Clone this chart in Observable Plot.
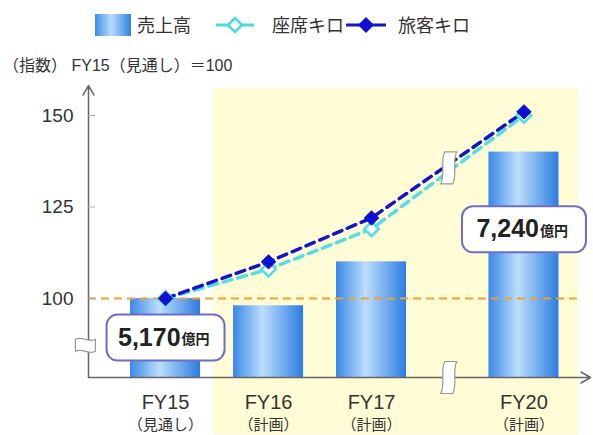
<!DOCTYPE html>
<html><head><meta charset="utf-8">
<script src="https://cdn.jsdelivr.net/npm/d3@7"></script>
<script src="https://cdn.jsdelivr.net/npm/@observablehq/plot@0.6"></script>
<style>
body{margin:0;background:#fff;font-family:"Liberation Sans","Noto Sans CJK JP",sans-serif;color:#333;}
#wrap{position:relative;width:593px;height:435px;overflow:hidden;background:#fff}
.lg{position:absolute;top:13px;font-size:18px;line-height:22px;color:#333;font-family:"Noto Sans CJK JP",sans-serif}
#sub{position:absolute;left:3px;top:56px;font-size:16px;line-height:20px;color:#333}
#chart{position:absolute;left:0;top:80px}
</style></head>
<body>
<div id="wrap">
  <div class="lg" style="left:95px;top:14px;width:36px;height:22px;background:linear-gradient(90deg,#3c8ce6,#b9dcfb 45%,#2f80e0)"></div>
  <div class="lg" id="lg1" style="left:137px"></div>
  <svg class="lg" style="left:216px;top:14px" width="38" height="22"><line x1="0" x2="38" y1="11" y2="11" stroke="#4dd6dd" stroke-width="3"/><path d="M19,4L26,11L19,18L12,11Z" fill="#fff" stroke="#4dd6dd" stroke-width="2.5"/></svg>
  <div class="lg" id="lg2" style="left:272px"></div>
  <svg class="lg" style="left:346px;top:14px" width="40" height="22"><line x1="0" x2="40" y1="11" y2="11" stroke="#1414c8" stroke-width="3"/><path d="M20,3L28,11L20,19L12,11Z" fill="#1010d0"/></svg>
  <div class="lg" id="lg3" style="left:398px"></div>
  <div id="sub"></div>
  <div id="chart"></div>
</div>
<script>
// ---- data ----
const categories = ["FY15", "FY16", "FY17", "FY20"];
const subLabels = ["（見通し）", "（計画）", "（計画）", "（計画）"];
const sales = [100, 98, 110, 140];          // 売上高 (index)
const seatKm = [100, 108, 119, 150];        // 座席キロ (index)
const passengerKm = [100, 110, 122, 151];   // 旅客キロ (index)
const yTicks = [100, 125, 150];
const calloutCats = ["FY15", "FY20"];
const calloutValues = ["5,170", "7,240"];
const calloutUnit = "億円";
const legendLabels = ["売上高", "座席キロ", "旅客キロ"];
const subtitle = "（指数） FY15（見通し）＝100";

// ---- layout (not data) ----
const slots = [0, 1, 2, 3.48];              // x slots, with axis break before FY20
const xMin = -0.748, xMax = 4.126, yMin = 78.4, yMax = 158.2;
const shade = {x1: 0.466, x2: 4.01, y1: 62.6, y2: 157.4};
const calloutY = [89.3, 118.9];
const breakX = 2.75, yBreak = 87.2;
const barHalf = 0.34;

document.getElementById("lg1").textContent = legendLabels[0];
document.getElementById("lg2").textContent = legendLabels[1];
document.getElementById("lg3").textContent = legendLabels[2];
document.getElementById("sub").textContent = subtitle;

const slotOf = c => slots[categories.indexOf(c)];
const bars = categories.map((c, i) => ({slot: slots[i], value: sales[i]}));
const seat = categories.map((c, i) => ({slot: slots[i], value: seatKm[i]}));
const pax = categories.map((c, i) => ({slot: slots[i], value: passengerKm[i]}));
const callouts = calloutCats.map((c, i) => ({slot: slotOf(c), pos: calloutY[i], value: calloutValues[i], unit: calloutUnit}));
// line break point placed on the lines between FY17 and FY20
const i17 = categories.indexOf("FY17"), i20 = categories.indexOf("FY20");
const t = (breakX - slots[i17]) / (slots[i20] - slots[i17]);
const lineBreakY = (passengerKm[i17] + seatKm[i17]) / 2 + t * ((passengerKm[i20] + seatKm[i20]) / 2 - (passengerKm[i17] + seatKm[i17]) / 2);

function roundBox(w, h, r) {
  return {draw(ctx) {
    const x0 = -w / 2, x1 = w / 2, y0 = -h / 2, y1 = h / 2;
    ctx.moveTo(x0 + r, y0); ctx.lineTo(x1 - r, y0); ctx.arcTo(x1, y0, x1, y0 + r, r);
    ctx.lineTo(x1, y1 - r); ctx.arcTo(x1, y1, x1 - r, y1, r);
    ctx.lineTo(x0 + r, y1); ctx.arcTo(x0, y1, x0, y1 - r, r);
    ctx.lineTo(x0, y0 + r); ctx.arcTo(x0, y0, x0 + r, y0, r); ctx.closePath();
  }};
}
const vBreak = {draw(ctx) {
  ctx.moveTo(-4, -16); ctx.lineTo(8, -16);
  ctx.bezierCurveTo(3, -6, 9, 6, 4, 16);
  ctx.lineTo(-8, 16);
  ctx.bezierCurveTo(-3, 6, -9, -6, -4, -16); ctx.closePath();
}};
const hBreak = {draw(ctx) {
  ctx.moveTo(-10, -6); ctx.bezierCurveTo(-4, -10, 4, -2, 10, -6);
  ctx.lineTo(10, 6); ctx.bezierCurveTo(4, 10, -4, 2, -10, 6); ctx.closePath();
}};

const defs = () => {
  const d = d3.create("svg:defs");
  const g = d.append("linearGradient").attr("id", "barGrad").attr("x1", "0").attr("x2", "1").attr("y1", "0").attr("y2", "0");
  g.append("stop").attr("offset", "0%").attr("stop-color", "#3a88e6");
  g.append("stop").attr("offset", "42%").attr("stop-color", "#bcdefc");
  g.append("stop").attr("offset", "100%").attr("stop-color", "#2c7ce0");
  return d.node();
};

const chart = Plot.plot({
  width: 593, height: 355,
  marginLeft: 88, marginRight: 3, marginTop: 5, marginBottom: 58,
  x: {type: "linear", domain: [xMin, xMax]},
  y: {domain: [yMin, yMax]},
  style: {fontFamily: '"Liberation Sans","Noto Sans CJK JP",sans-serif', background: "transparent", overflow: "visible", color: "#333"},
  marks: [
    defs,
    Plot.rect([shade], {x1: "x1", x2: "x2", y1: "y1", y2: "y2", fill: "#fffcd6"}),
    Plot.rect(bars, {x1: d => d.slot - barHalf, x2: d => d.slot + barHalf, y1: () => yMin, y2: "value", fill: "url(#barGrad)"}),
    Plot.ruleY([100], {x1: () => xMin, x2: () => shade.x2, stroke: "#f3a033", strokeWidth: 2, strokeDasharray: "8,5"}),
    Plot.arrow([0], {x1: () => xMin, y1: () => yMin, x2: () => xMax, y2: () => yMin, stroke: "#666", strokeWidth: 1.5, headLength: 11}),
    Plot.arrow([0], {x1: () => xMin, y1: () => yMin, x2: () => xMin, y2: () => yMax, stroke: "#666", strokeWidth: 1.5, headLength: 11}),
    Plot.ruleY(yTicks, {x1: () => xMin, x2: () => xMin + 0.07, stroke: "#aaa"}),
    Plot.axisY({ticks: yTicks, tickSize: 0, tickPadding: 15, fontSize: 19, label: null}),
    Plot.axisX({ticks: slots, tickFormat: d => categories[slots.indexOf(d)], tickSize: 0, tickPadding: 17, fontSize: 20, label: null}),
    Plot.axisX({ticks: slots, tickFormat: d => subLabels[slots.indexOf(d)], tickSize: 0, tickPadding: 42, fontSize: 15, label: null}),
    Plot.line(seat, {x: "slot", y: "value", stroke: "#55dde4", strokeWidth: 3.5, strokeDasharray: "9,6"}),
    Plot.line(pax, {x: "slot", y: "value", stroke: "#1414c8", strokeWidth: 3.5, strokeDasharray: "9,6"}),
    Plot.dot(seat, {x: "slot", y: "value", symbol: "diamond2", r: 6.5, fill: "#fff", stroke: "#55dde4", strokeWidth: 2.5}),
    Plot.dot(pax, {x: "slot", y: "value", symbol: "diamond2", r: 6.5, fill: "#1010d0", stroke: "#1010d0", strokeWidth: 1}),
    Plot.dot([{x: breakX, y: lineBreakY}, {x: breakX, y: yMin}], {x: "x", y: "y", symbol: vBreak, r: 5, fill: "#fff", stroke: "#999", strokeWidth: 1.2}),
    Plot.dot([{x: xMin - 0.03, y: yBreak}], {x: "x", y: "y", symbol: hBreak, r: 5, fill: "#fff", stroke: "#999", strokeWidth: 1.2}),
    Plot.dot([callouts[0]], {x: "slot", y: "pos", symbol: roundBox(118, 46, 11), r: 5, fill: "#fff", stroke: "#6d6dc8", strokeWidth: 2}),
    Plot.dot([callouts[1]], {x: "slot", y: "pos", symbol: roundBox(124, 46, 11), r: 5, fill: "#fff", stroke: "#6d6dc8", strokeWidth: 2}),
    Plot.text(callouts, {x: "slot", y: "pos", text: "value", textAnchor: "end", dx: 15, fontSize: 25, fontWeight: "bold", fill: "#222"}),
    Plot.text(callouts, {x: "slot", y: "pos", text: "unit", textAnchor: "start", dx: 16, dy: 2, fontSize: 14, fontWeight: "bold", fill: "#222"})
  ]
});
document.getElementById("chart").appendChild(chart);
</script>
</body></html>
